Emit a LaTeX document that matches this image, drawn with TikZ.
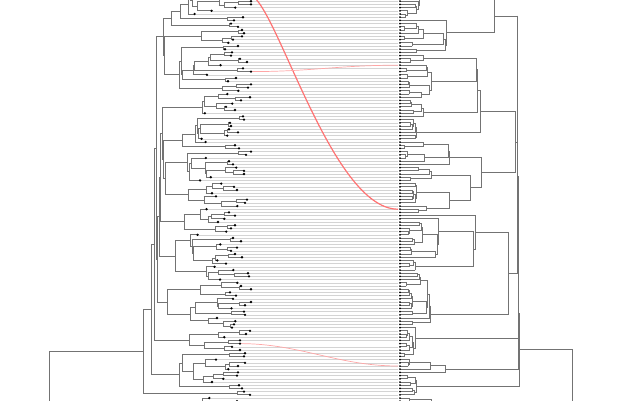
\documentclass[tikz,border=0pt]{standalone}
\newcount\rs \rs=4242
\newcount\rtmp \newcount\rr
\def\nextrand{\global\multiply\rs by 75 \rtmp=\rs \divide\rtmp by 65537 \multiply\rtmp by 65537 \global\advance\rs by -\rtmp}
\def\randint#1#2{\nextrand\rtmp=\numexpr(#2)-(#1)+1\relax\rr=\rs\divide\rr by\rtmp\multiply\rr by\rtmp\rr=\numexpr\rs-\rr+(#1)\relax}
\def\forceL#1#2#3#4{\expandafter\def\csname lk#1:#2\endcsname{#3}\expandafter\def\csname lxx#1:#2\endcsname{#4}}
\def\forceR#1#2#3#4{\expandafter\def\csname rk#1:#2\endcsname{#3}\expandafter\def\csname rxx#1:#2\endcsname{#4}}
% ---------- left tree ----------
\def\LT#1#2#3{\edef\tmp{\noexpand\LTi{\the\numexpr#1\relax}{\the\numexpr#2\relax}{#3}}\tmp}
\def\LTi#1#2#3{\ifnum#1=#2\relax\expandafter\LTtip\else\expandafter\LTnode\fi{#1}{#2}{#3}}
\def\LTtip#1#2#3{\begingroup
  \randint{2}{16}%
  \pgfmathsetmacro\xx{max(#3+1.5,min(#3+\the\rr,251))}%
  \ifnum#1=2 \def\xx{249}\fi
  \pgfmathsetmacro\yy{-11.6+3.2*#1}%
  \draw[tline] (#3,\yy) -- (\xx,\yy);%
  \expandafter\xdef\csname lx#1\endcsname{\xx}%
  \xdef\gy{\yy}\endgroup}
\def\LTnode#1#2#3{\begingroup
  \ifcsname lk#1:#2\endcsname
    \edef\kk{\csname lk#1:#2\endcsname}\edef\xx{\csname lxx#1:#2\endcsname}%
  \else
    \randint{#1}{#2-1}\edef\kk{\the\rr}%
    \randint{0}{16}%
    \pgfmathsetmacro\xx{max(#3+1.5,251-20*ln(#2-#1+1)/ln(2)+\the\rr-8)}%
  \fi
  \LT{#1}{\kk}{\xx}\let\ya\gy
  \LT{\kk+1}{#2}{\xx}\let\yb\gy
  \pgfmathsetmacro\yy{(\ya+\yb)/2}%
  \draw[tline] (\xx,\ya) -- (\xx,\yb);%
  \draw[tline] (#3,\yy) -- (\xx,\yy);%
  \xdef\gy{\yy}\endgroup}
% ---------- right tree ----------
\def\RT#1#2#3{\edef\tmp{\noexpand\RTi{\the\numexpr#1\relax}{\the\numexpr#2\relax}{#3}}\tmp}
\def\RTi#1#2#3{\ifnum#1=#2\relax\expandafter\RTtip\else\expandafter\RTnode\fi{#1}{#2}{#3}}
\def\RTtip#1#2#3{\begingroup
  \pgfmathsetmacro\yy{-11.6+3.2*#1}%
  \draw[tline] (#3,\yy) -- (400,\yy);%
  \xdef\gy{\yy}\endgroup}
\def\RTnode#1#2#3{\begingroup
  \ifcsname rk#1:#2\endcsname
    \edef\kk{\csname rk#1:#2\endcsname}\edef\xx{\csname rxx#1:#2\endcsname}%
  \else
    \randint{#1}{#2-1}\edef\kk{\the\rr}%
    \randint{3}{15}%
    \pgfmathsetmacro\xx{max(401.5,min(#3-1.5,400+\the\rr/10*15*ln(#2-#1+1)/ln(2)))}%
  \fi
  \RT{#1}{\kk}{\xx}\let\ya\gy
  \RT{\kk+1}{#2}{\xx}\let\yb\gy
  \pgfmathsetmacro\yy{(\ya+\yb)/2}%
  \draw[tline] (\xx,\ya) -- (\xx,\yb);%
  \draw[tline] (#3,\yy) -- (\xx,\yy);%
  \xdef\gy{\yy}\endgroup}
% forced backbones
\forceL{0}{137}{127}{49}
\forceL{0}{127}{125}{143}
\forceL{0}{125}{113}{151}
\forceL{0}{113}{106}{154}
\forceL{0}{106}{32}{156}
\forceL{0}{32}{12}{163}
\forceR{0}{137}{127}{572}
\forceR{0}{127}{120}{519}
\forceR{0}{120}{115}{518.5}
\forceR{0}{115}{105}{518}
\forceR{0}{105}{70}{517.5}
\forceR{0}{70}{20}{517}
\forceR{0}{20}{9}{494}
\forceR{21}{70}{47}{515}
\forceR{21}{47}{40}{480}
\forceR{71}{105}{88}{508}
\begin{document}
\begin{tikzpicture}[x=1pt,y=-1pt,
  tline/.style={draw=black!55,line width=0.9pt,line cap=rect},
  cline/.style={draw=black!17,line width=0.6pt},
  redmain/.style={draw=red!55!white,line width=1.2pt},
  redthin/.style={draw=red!35!white,line width=0.7pt},
  tipdot/.style={fill=black}]
\useasboundingbox (0,0) rectangle (640,400);
\begin{scope}
\clip (0,0) rectangle (640,400);
\LT{0}{137}{49}
\RT{0}{137}{572}
\foreach \i in {0,...,137}{%
  \ifnum\i=2 \else\ifnum\i=26 \else\ifnum\i=111 \else
    \edef\cx{\csname lx\i\endcsname}%
    \draw[cline] (\cx,-11.6+3.2*\i) -- (398,-11.6+3.2*\i);
  \fi\fi\fi}
\edef\ca{\csname lx2\endcsname}\edef\cb{\csname lx26\endcsname}\edef\cc{\csname lx111\endcsname}
\draw[redmain] (\ca,-5.2) .. controls (\ca+25,-5.2) and (330,209.2) .. (398,209.2);
\draw[redthin] (\cb,71.6) .. controls (\cb+60,71.6) and (338,65.2) .. (398,65.2);
\draw[redthin] (\cc,343.6) .. controls (\cc+60,343.6) and (338,366) .. (398,366);
\foreach \i in {0,...,137}{%
  \edef\cx{\csname lx\i\endcsname}%
  \fill[tipdot] (\cx,-11.6+3.2*\i) circle (1.3);
  \fill[tipdot] (400,-11.6+3.2*\i) circle (1.0);}
\end{scope}
\end{tikzpicture}
\end{document}
